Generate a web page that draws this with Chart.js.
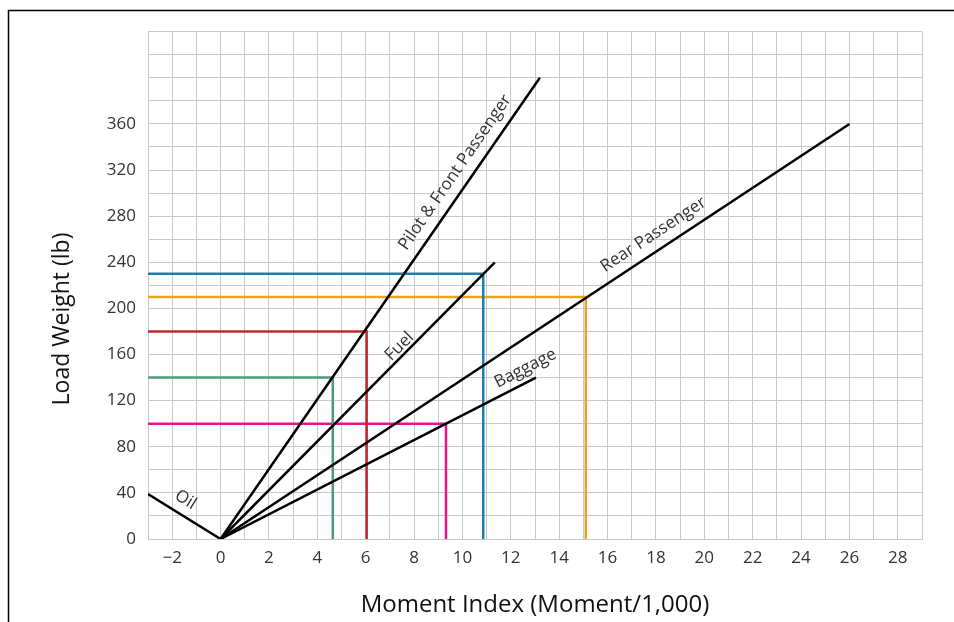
<!DOCTYPE html>
<html>
<head>
<meta charset="utf-8">
<script src="https://cdn.jsdelivr.net/npm/chart.js@4.4.1/dist/chart.umd.min.js"></script>
<style>
  html, body { margin: 0; padding: 0; background: #fff; }
  #wrap { width: 954px; height: 622px; }
</style>
</head>
<body>
<div id="wrap"><canvas id="chart" width="954" height="622"></canvas></div>
<script>
// Load lines (moment index, weight)
const pilotLine = [[0, 0], [13.2, 400]];
const fuelLine = [[0, 0], [11.34, 240]];
const rearLine = [[0, 0], [26.0, 360]];
const baggageLine = [[0, 0], [13.04, 140]];
const oilLine = [[-3, 39], [0, 0]];

// Reading guides: weight read across to a moment value
const guideWeights = [230, 210, 180, 140, 100];
const guideMoments = [10.86, 15.1, 6.04, 4.64, 9.32];
const guideColors = ['#1d7ea8', '#e9a41d', '#c2272e', '#4d9a7a', '#e2178c'];

// Tick labels that get text
const xTickLabels = [-2, 0, 2, 4, 6, 8, 10, 12, 14, 16, 18, 20, 22, 24, 26, 28];
const yTickLabels = [0, 40, 80, 120, 160, 200, 240, 280, 320, 360];

// Text along the lines: [text, x, y, line it follows]
const lineLabels = [
  ['Pilot & Front Passenger', 9.7, 318, pilotLine],
  ['Fuel', 7.4, 167, fuelLine],
  ['Rear Passenger', 17.9, 264, rearLine],
  ['Baggage', 12.6, 148, baggageLine],
  ['Oil', -1.45, 34, oilLine]
];

const toPts = arr => arr.map(p => ({ x: p[0], y: p[1] }));

const datasets = [];
[pilotLine, fuelLine, rearLine, baggageLine, oilLine].forEach(l => {
  datasets.push({ data: toPts(l), borderColor: '#000', borderWidth: 2.5 });
});
guideWeights.forEach((w, i) => {
  datasets.push({
    data: toPts([[-3, w], [guideMoments[i], w], [guideMoments[i], 0]]),
    borderColor: guideColors[i],
    borderWidth: 2.5
  });
});
datasets.forEach(d => {
  d.showLine = true;
  d.pointRadius = 0;
  d.fill = false;
  d.borderJoinStyle = 'miter';
  d.tension = 0;
});

const extras = {
  id: 'extras',
  afterDraw(chart) {
    const ctx = chart.ctx;
    const xs = chart.scales.x, ys = chart.scales.y;
    ctx.save();
    // frame
    ctx.strokeStyle = '#000';
    ctx.lineWidth = 1.5;
    ctx.beginPath();
    ctx.moveTo(8.5, 622);
    ctx.lineTo(8.5, 10.5);
    ctx.lineTo(954, 10.5);
    ctx.stroke();

    // line labels
    ctx.fillStyle = '#333';
    ctx.font = '17px "Open Sans"';
    ctx.textAlign = 'center';
    ctx.textBaseline = 'middle';
    lineLabels.forEach(([text, x, y, line]) => {
      const x0 = xs.getPixelForValue(line[0][0]), y0 = ys.getPixelForValue(line[0][1]);
      const x1 = xs.getPixelForValue(line[1][0]), y1 = ys.getPixelForValue(line[1][1]);
      const ang = Math.atan2(y1 - y0, x1 - x0);
      ctx.save();
      ctx.translate(xs.getPixelForValue(x), ys.getPixelForValue(y));
      ctx.rotate(ang);
      ctx.fillText(text, 0, 0);
      ctx.restore();
    });

    // axis titles
    ctx.fillStyle = '#111';
    ctx.textBaseline = 'alphabetic';
    ctx.font = '24px "Open Sans"';
    ctx.fillText('Moment Index (Moment/1,000)', (chart.chartArea.left + chart.chartArea.right) / 2, 612);
    ctx.save();
    ctx.font = '23px "Open Sans"';
    ctx.textBaseline = 'middle';
    ctx.translate(62, 319);
    ctx.rotate(-Math.PI / 2);
    ctx.fillText('Load Weight (lb)', 0, 0);
    ctx.restore();
    ctx.restore();
  }
};

Chart.defaults.font.family = '"Open Sans", sans-serif';

new Chart(document.getElementById('chart'), {
  type: 'scatter',
  data: { datasets: datasets },
  options: {
    responsive: false,
    animation: false,
    layout: { padding: { top: 31.7, right: 32, left: 0, bottom: 0 } },
    plugins: { legend: { display: false }, tooltip: { enabled: false } },
    scales: {
      x: {
        type: 'linear',
        min: -3, max: 29,
        afterFit: s => { s.height = 83; },
        grid: { color: '#c8c8cb', lineWidth: 1, drawTicks: false },
        border: { color: '#c8c8cb' },
        ticks: {
          stepSize: 1, autoSkip: false, maxRotation: 0, padding: 9,
          color: '#333', font: { size: 17 },
          callback: v => xTickLabels.includes(v) ? (v < 0 ? '\u2212' + Math.abs(v) : String(v)) : ''
        }
      },
      y: {
        type: 'linear',
        min: 0, max: 440,
        afterFit: s => { s.width = 148; },
        grid: { color: '#c8c8cb', lineWidth: 1, drawTicks: false },
        border: { color: '#c8c8cb' },
        ticks: {
          stepSize: 20, autoSkip: false, padding: 12,
          color: '#333', font: { size: 17 },
          callback: v => yTickLabels.includes(v) ? String(v) : ''
        }
      }
    }
  },
  plugins: [extras]
});
</script>
</body>
</html>
